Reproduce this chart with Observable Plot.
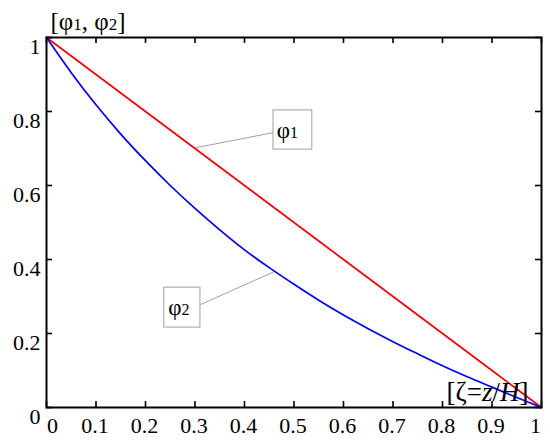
<!DOCTYPE html>
<html><head><meta charset="utf-8">
<script src="https://cdn.jsdelivr.net/npm/d3@7"></script>
<script src="https://cdn.jsdelivr.net/npm/@observablehq/plot@0.6"></script>
<style>body{margin:0;background:#fff;font-family:"Liberation Serif",serif}</style>
</head><body><div id="chart"></div>
<script>
// ---- data ----
const zeta = [0, 0.05, 0.1, 0.15, 0.2, 0.25, 0.3, 0.35, 0.4, 0.45, 0.5, 0.55, 0.6, 0.65, 0.7, 0.75, 0.8, 0.85, 0.9, 0.95, 1];
const phi1 = [1, 0.95, 0.9, 0.85, 0.8, 0.75, 0.7, 0.65, 0.6, 0.55, 0.5, 0.45, 0.4, 0.35, 0.3, 0.25, 0.2, 0.15, 0.1, 0.05, 0];
const phi2 = [1, 0.905, 0.818, 0.739, 0.667, 0.600, 0.538, 0.480, 0.426, 0.378, 0.333, 0.290, 0.250, 0.213, 0.178, 0.145, 0.113, 0.083, 0.055, 0.027, 0];
const xTicks = [0, 0.1, 0.2, 0.3, 0.4, 0.5, 0.6, 0.7, 0.8, 0.9, 1];
const xTickLabels = ["0", "0.1", "0.2", "0.3", "0.4", "0.5", "0.6", "0.7", "0.8", "0.9", "1"];
const yTicks = [0, 0.2, 0.4, 0.6, 0.8, 1];
const yTickLabels = ["0", "0.2", "0.4", "0.6", "0.8", "1"];
const yTitle = "[φ1, φ2]";
const xTitle = "[ζ=z/H]";
// annotation boxes (data coordinates) and leader lines
const boxes = [
  {label: "φ1", x1: 0.4586, x2: 0.537, y1: 0.697, y2: 0.803, tx: 0.465, ty: 0.728, fx: 0.4586, fy: 0.743, px: 0.301, py: 0.702},
  {label: "φ2", x1: 0.238, x2: 0.311, y1: 0.216, y2: 0.324, tx: 0.246, ty: 0.25, fx: 0.311, fy: 0.278, px: 0.4606, py: 0.3676}
];

const rows1 = zeta.map((z, i) => ({z, v: phi1[i]}));
const rows2 = zeta.map((z, i) => ({z, v: phi2[i]}));

const W = 550, H = 446, mL = 46, mR = 9, mT = 37, mB = 39;
const innerW = W - mL - mR, innerH = H - mT - mB;
const FS = 22;
const font = '"Liberation Serif", "Times New Roman", serif';

const xl = xTicks.map((t, i) => ({t, s: xTickLabels[i]}));
const yl = yTicks.map((t, i) => ({t, s: yTickLabels[i]}));
const T = {fontSize: FS, fontFamily: font, fill: "black"};

const chart = Plot.plot({
  width: W, height: H,
  marginLeft: mL, marginRight: mR, marginTop: mT, marginBottom: mB,
  x: {domain: [0, 1], axis: null},
  y: {domain: [0, 1], axis: null},
  style: {fontFamily: font, background: "white", color: "black"},
  marks: [
    Plot.link(boxes, {x1: "px", y1: "py", x2: "fx", y2: "fy", stroke: "#a0a0a0", strokeWidth: 1}),
    Plot.rect(boxes, {x1: "x1", x2: "x2", y1: "y1", y2: "y2", fill: "white", stroke: "#a0a0a0", strokeWidth: 1}),
    Plot.text(boxes, {x: "tx", y: "ty", text: "label", textAnchor: "start", lineAnchor: "bottom", ...T, fontSize: 23}),
    Plot.line(rows1, {x: "z", y: "v", stroke: "#ff0000", strokeWidth: 1.7}),
    Plot.line(rows2, {x: "z", y: "v", stroke: "#0000ff", strokeWidth: 1.7, curve: "monotone-x"}),
    Plot.frame({stroke: "black", strokeWidth: 2}),
    Plot.tickX(xTicks, {x: d => d, insetTop: innerH - 6, stroke: "black", strokeWidth: 1.6}),
    Plot.tickX(xTicks, {x: d => d, insetBottom: innerH - 6, stroke: "black", strokeWidth: 1.6}),
    Plot.tickY(yTicks, {y: d => d, insetRight: innerW - 6, stroke: "black", strokeWidth: 1.6}),
    Plot.tickY(yTicks, {y: d => d, insetLeft: innerW - 6, stroke: "black", strokeWidth: 1.6}),
    Plot.text(xl.slice(0, 1), {x: "t", text: "s", frameAnchor: "bottom", dy: 25, dx: 6, ...T}),
    Plot.text(xl.slice(1, -1), {x: "t", text: "s", frameAnchor: "bottom", dy: 25, dx: -1, ...T}),
    Plot.text(xl.slice(-1), {x: "t", text: "s", frameAnchor: "bottom", dy: 25, dx: -6, ...T}),
    Plot.text(yl, {y: "t", text: "s", frameAnchor: "left", dx: -6, dy: 9, textAnchor: "end", ...T}),
    Plot.text([yTitle], {text: d => d, frameAnchor: "top-left", dx: 4, dy: -8, textAnchor: "start", lineAnchor: "bottom", ...T, fontSize: 25}),
    Plot.text([xTitle], {text: d => d, frameAnchor: "bottom-right", dx: -13, dy: -7, textAnchor: "end", lineAnchor: "bottom", ...T, fontSize: 27})
  ]
});

// rich text: smaller indices, italic variables
const rich = {
  "[φ1, φ2]": [["[φ"], ["1", {size: 17}], [", φ"], ["2", {size: 17}], ["]"]],
  "φ1": [["φ"], ["1", {size: 16}]],
  "φ2": [["φ"], ["2", {size: 16}]],
  "[ζ=z/H]": [["[ζ="], ["z", {italic: true}], ["/"], ["H", {italic: true}], ["]"]]
};
d3.select(chart).selectAll("text").each(function() {
  const s = this.textContent;
  if (!(s in rich)) return;
  const el = d3.select(this);
  el.text(null);
  for (const [t, o = {}] of rich[s]) {
    const ts = el.append("tspan").text(t);
    if (o.size) ts.attr("font-size", o.size);
    if (o.italic) ts.attr("font-style", "italic");
  }
});

document.getElementById("chart").appendChild(chart);
</script>
</body></html>
